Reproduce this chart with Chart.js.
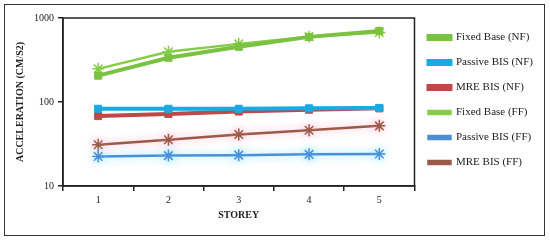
<!DOCTYPE html>
<html>
<head>
<meta charset="utf-8">
<script src="https://cdn.jsdelivr.net/npm/chart.js@4/dist/chart.umd.min.js"></script>
<style>
  body { margin: 0; background: #fff; }
  #frame { position: absolute; left: 4px; top: 4px; width: 539px; height: 230px; border: 1.5px solid #333; }
  #wrap { position: absolute; left: 1px; top: 1px; width: 537px; height: 228px; }
</style>
</head>
<body>
<div id="frame"><div id="wrap"><canvas id="myChart"></canvas></div></div>
<script>
"use strict";

// storeys along the x axis
var storeys = ['1', '2', '3', '4', '5'];
var yTicks = [10, 100, 1000];

// acceleration (cm/s2)
var fixedNF   = [206, 336, 454, 596, 701];
var passiveNF = [83, 83, 83, 84, 85];
var mreNF     = [68, 72, 77, 81, 84];
var fixedFF   = [248, 396, 492, 600, 672];
var passiveFF = [22.5, 23, 23.3, 23.8, 24];
var mreFF     = [31, 35.5, 41, 46, 52];

var ctx = document.getElementById('myChart');

// soft halo behind some lines, and a box round the plot
var glowPlugin = {
	id: 'glow',
	beforeDatasetDraw: function(chart, args) {
		var ds = chart.data.datasets[args.index];
		if (ds.glow) {
			chart.ctx.shadowColor = ds.glow;
			chart.ctx.shadowBlur = 8;
		}
	},
	afterDatasetDraw: function(chart) {
		chart.ctx.shadowColor = 'rgba(0,0,0,0)';
		chart.ctx.shadowBlur = 0;
	},
	afterDraw: function(chart) {
		var a = chart.chartArea;
		var c = chart.ctx;
		c.save();
		c.strokeStyle = '#222';
		c.lineWidth = 1.5;
		c.strokeRect(a.left, a.top, a.right - a.left, a.bottom - a.top);
		c.restore();
	}
};

function line(label, data, color, style, width, radius, glow) {
	return {
		label: label,
		data: data,
		borderColor: color,
		backgroundColor: color,
		borderWidth: width,
		pointStyle: style,
		pointRadius: radius,
		pointBorderWidth: style === 'star' ? 1.5 : 1,
		pointBorderColor: color,
		pointBackgroundColor: color,
		tension: 0,
		glow: glow
	};
}

var chart = new Chart(ctx, {
	type: 'line',
	data: {
		labels: storeys,
		datasets: [
			line('Fixed Base (NF)', fixedNF, '#7cc242', 'rect', 4, 5),
			line('Passive BIS (NF)', passiveNF, '#19a9e3', 'rect', 4, 5),
			line('MRE BIS (NF)', mreNF, '#c0474a', 'rect', 4, 5),
			line('Fixed Base (FF)', fixedFF, '#86cc48', 'star', 2.5, 6),
			line('Passive BIS (FF)', passiveFF, '#4a8fd8', 'star', 2.5, 6, 'rgba(120,225,255,0.9)'),
			line('MRE BIS (FF)', mreFF, '#9a5a45', 'star', 2.5, 6, 'rgba(255,170,200,0.9)')
		]
	},
	options: {
		responsive: true,
		maintainAspectRatio: false,
		animation: false,
		layout: {
			padding: { left: 4, top: 12, right: 0, bottom: 13 }
		},
		plugins: {
			legend: {
				position: 'right',
				align: 'start',
				labels: {
					boxWidth: 22,
					boxHeight: 3,
					padding: 14,
					color: '#222',
					font: { family: 'Liberation Serif', size: 11 }
				}
			},
			tooltip: { enabled: false }
		},
		scales: {
			x: {
				offset: true,
				grid: {
					offset: true,
					drawOnChartArea: false,
					tickLength: 5,
					color: '#222',
					lineWidth: 1.5
				},
				border: { color: '#222', width: 1.5 },
				ticks: {
					color: '#222',
					padding: 3,
					font: { family: 'Liberation Serif', size: 10 }
				},
				title: {
					display: true,
					text: 'STOREY',
					color: '#222',
					padding: { top: 0, bottom: 0 },
					font: { family: 'Liberation Serif', size: 10, weight: 'bold' }
				}
			},
			y: {
				type: 'logarithmic',
				min: 10,
				max: 1000,
				afterBuildTicks: function(scale) {
					scale.ticks = yTicks.map(function(v) { return { value: v }; });
				},
				grid: {
					drawOnChartArea: false,
					tickLength: 5,
					color: '#222',
					lineWidth: 1.5
				},
				border: { color: '#222', width: 1.5 },
				ticks: {
					color: '#222',
					padding: 4,
					font: { family: 'Liberation Serif', size: 10 },
					callback: function(v) { return String(v); }
				},
				title: {
					display: true,
					text: 'ACCELERATION (CM/S2)',
					color: '#222',
					font: { family: 'Liberation Serif', size: 10, weight: 'bold' }
				}
			}
		}
	},
	plugins: [glowPlugin]
});
</script>
</body>
</html>
